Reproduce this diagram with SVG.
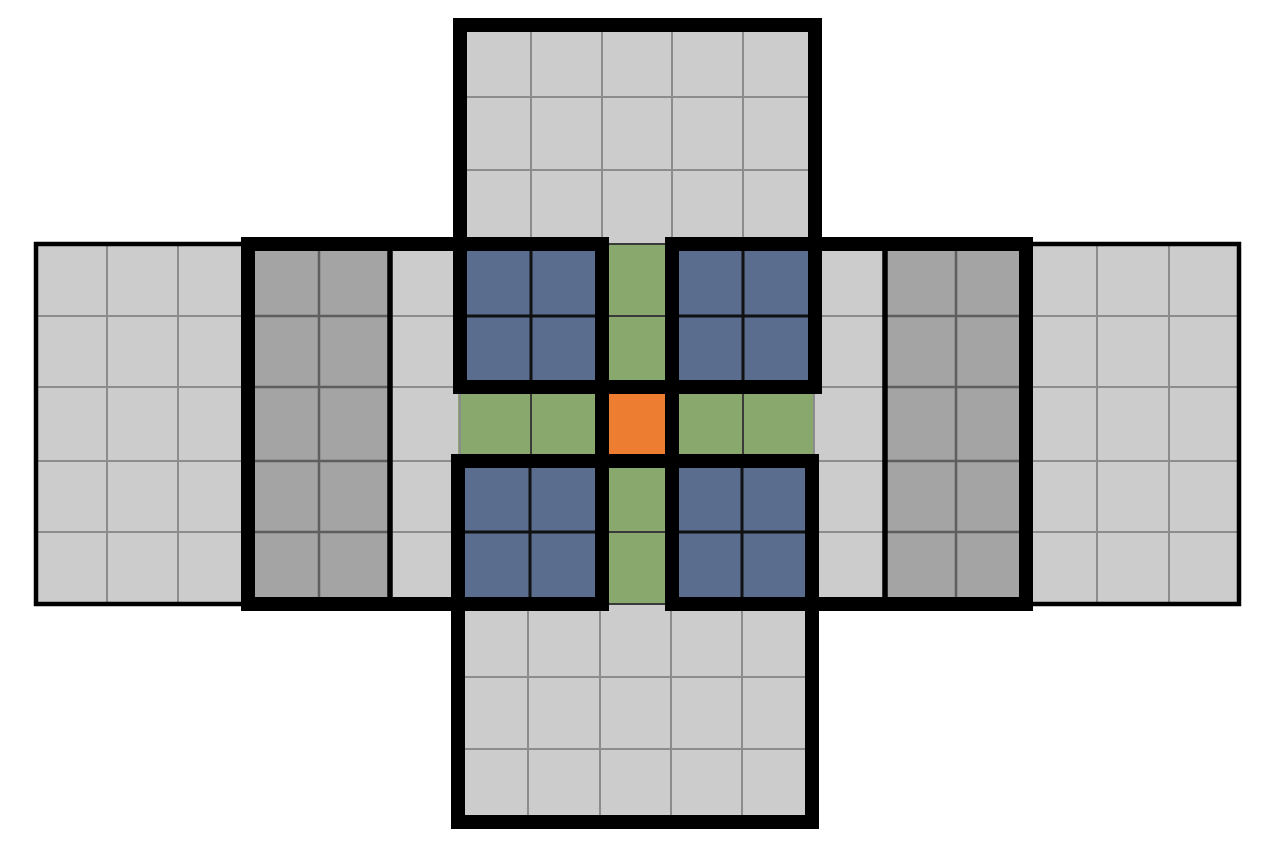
<svg xmlns="http://www.w3.org/2000/svg" width="1272" height="846" viewBox="0 0 1272 846">
<style>
.lg{fill:#cccccc}
.dg{fill:#a4a4a4}
.bl{fill:#5a6d8e}
.gr{fill:#89a86e}
.or{fill:#ed7d31}
.gl{stroke:#8c8c8c;stroke-width:2;fill:none}
.gd{stroke:#5e5e5e;stroke-width:2.5;fill:none}
.gb{stroke:#111111;stroke-width:3;fill:none}
.gg{stroke:#3a3a3a;stroke-width:2;fill:none}
.thin{stroke:#000000;stroke-width:4.5;fill:none}
.mid{stroke:#000000;stroke-width:5.5;fill:none}
.thick{stroke:#000000;stroke-width:14;fill:none;stroke-linejoin:miter}
</style>
<rect width="1272" height="846" fill="#ffffff"/>
<g id="fills">
  <rect class="lg" x="36" y="244" width="1203" height="360"/>
  <rect class="lg" x="460" y="25" width="355" height="219"/>
  <rect class="lg" x="458" y="604" width="354" height="218"/>
  <rect class="dg" x="248" y="244" width="142" height="360"/>
  <rect class="dg" x="885" y="244" width="141" height="360"/>
</g>
<g id="center-cross">
  <rect class="bl" x="460" y="244" width="142" height="143"/>
  <rect class="bl" x="672" y="244" width="143" height="143"/>
  <rect class="bl" x="458" y="461" width="144" height="143"/>
  <rect class="bl" x="672" y="461" width="140" height="143"/>
  <rect class="gr" x="602" y="244" width="70" height="143"/>
  <rect class="gr" x="602" y="461" width="70" height="143"/>
  <rect class="gr" x="458" y="387" width="144" height="74"/>
  <rect class="gr" x="672" y="387" width="141" height="74"/>
  <rect id="center" class="or" x="602" y="387" width="70" height="74"/>
</g>
<g id="gridlines">
  <path class="gl" d="M36 316H1239M36 387H1239M36 461H1239M36 532H1239"/>
  <path class="gl" d="M107 244V604M178 244V604M1097 244V604M1169 244V604M460 244V604M814 244V604"/>
  <path class="gd" d="M248 316H390M248 387H390M248 461H390M248 532H390M885 316H1026M885 387H1026M885 461H1026M885 532H1026M319 244V604M956 244V604"/>
  <path class="gb" d="M460 316H602M672 316H815M458 532H602M672 532H812M531 244V387M743 244V387M530 461V604M742 461V604"/>
  <path class="gg" d="M602 316H672M602 532H672M531 387V461M743 387V461M602 244H672M602 604H672"/>
  <path class="gl" d="M531 25V244M602 25V244M672 25V244M743 25V244M460 97H815M460 170H815"/>
  <path class="gl" d="M528 604V822M600 604V822M671 604V822M742 604V822M458 677H812M458 749H812"/>
</g>
<g id="dividers">
  <path class="mid" d="M390 244V604M885 244V604"/>
</g>
<g id="outer-left"><rect class="thin" x="36" y="244" width="212" height="360"/></g>
<g id="outer-right"><rect class="thin" x="1026" y="244" width="213" height="360"/></g>
<g id="block-left"><rect class="thick" x="248" y="244" width="354" height="360"/></g>
<g id="block-right"><rect class="thick" x="672" y="244" width="354" height="360"/></g>
<g id="block-top"><rect class="thick" x="460" y="25" width="355" height="362"/></g>
<g id="block-bottom"><rect class="thick" x="458" y="461" width="354" height="361"/></g>
</svg>
